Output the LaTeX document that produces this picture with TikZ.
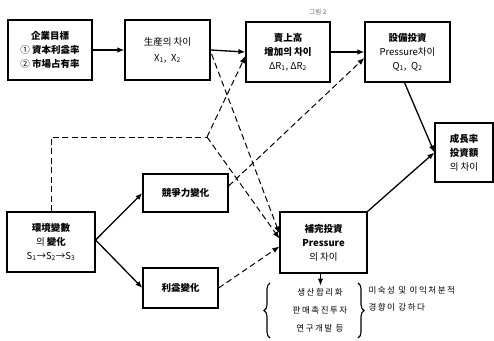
\documentclass[tikz,border=0pt]{standalone}
\usepackage{fontspec}
\setmainfont{Noto Sans CJK KR}
\newfontfamily\krwide[LetterSpace=18]{Noto Sans CJK KR}
\usetikzlibrary{arrows.meta,calc,decorations.pathreplacing}
\begin{document}
\begin{tikzpicture}[x=1pt,y=-1pt,
  box/.style={draw,line width=1.2pt,align=center,inner sep=1pt,font=\fontsize{9.5}{14}\selectfont},
  arr/.style={line width=1.3pt,-{Latex[length=7pt,width=5.5pt]}},
  darr/.style={line width=1pt,dash pattern=on 6pt off 3.5pt,-{Latex[length=7pt,width=5.5pt]}},
  dline/.style={line width=1pt,dash pattern=on 6pt off 3.5pt},
  brc/.style={decorate,decoration={brace,amplitude=6pt},line width=1.1pt},
  lbl/.style={align=center,font=\krwide\fontsize{8.5}{18}\selectfont}]
\useasboundingbox (0,0) rectangle (494,340);
\node[font=\fontsize{6.5}{7}\selectfont,text=black!60] (fig) at (318,12) {그림 2};
\node[box,minimum width=84pt,minimum height=60pt] (A) at (50,50)
  {\bfseries 企業目標\\ ① \bfseries 資本利益率\\ ② \bfseries 市場占有率};
\node[box,minimum width=85pt,minimum height=60pt] (B) at (167.5,50)
  {生産의 차이\\[2pt] X\textsubscript{1},\enspace X\textsubscript{2}};
\node[box,minimum width=84pt,minimum height=60pt] (C) at (288,52)
  {\bfseries 賣上高\\ \bfseries 增加의 차이\\ ΔR\textsubscript{1}, ΔR\textsubscript{2}};
\node[box,minimum width=85pt,minimum height=60pt] (D) at (407.5,52)
  {\bfseries 設備投資\\ Pressure차이\\ Q\textsubscript{1},\enspace Q\textsubscript{2}};
\node[box,minimum width=58pt,minimum height=59pt] (E) at (464,152.5)
  {\bfseries 成長率\\ \bfseries 投資額\\ 의 차이};
\node[box,minimum width=88pt,minimum height=60pt] (F) at (51,242)
  {\bfseries 環境變數\\ 의 \bfseries 變化\\ S\textsubscript{1}→S\textsubscript{2}→S\textsubscript{3}};
\node[box,minimum width=85pt,minimum height=38pt] (G) at (185.5,193) {\bfseries 競爭力變化};
\node[box,minimum width=75pt,minimum height=40pt] (H) at (180.5,288) {\bfseries 利益變化};
\node[box,minimum width=87pt,minimum height=61pt] (I) at (323.5,242.5)
  {\bfseries 補完投資\\ \bfseries Pressure\\ 의 차이};
\node[lbl] (L) at (320,310) {생산합리화\\ 판매촉진투자\\ 연구개발 등};
\node[lbl,anchor=north west,font=\krwide\fontsize{8.5}{17}\selectfont,align=left] (R) at (365,283)
  {미숙성 및 이익처분적\\ 경향이 강하다};
\coordinate (bl1) at (270,338);
\coordinate (bl2) at (270,283);
\coordinate (br1) at (358,283);
\coordinate (br2) at (358,338);
\draw[brc] (bl1) -- (bl2);
\draw[brc] (br1) -- (br2);
% solid arrows
\draw[arr] (A.east) -- (B.west);
\draw[arr] (B.east) -- (C.west);
\draw[arr] (C.east) -- (D.west);
\draw[arr] ($(D.south)+(-3,0)$) -- (E.west);
\draw[arr] (I.north east) -- (E.west);
\draw[arr] ($(F.east)+(0,-2)$) -- (G.west);
\draw[arr] ($(F.east)+(0,-2)$) -- (H.west);
\draw[arr] ($(I.south)+(-3,0)$) -- ($(I.south)+(-3,12)$);
% dashed
\coordinate (k) at (207,137);
\draw[dline] (F.north) -- (F.north |- k) -- (k);
\draw[darr] (k) -- ($(C.west)+(0,4)$);
\draw[darr] (k) -- ($(I.west)+(0,-4)$);
\draw[darr] ($(B.east)+(1,4)$) -- ($(I.west)+(0,-9)$);
\draw[darr] ($(G.east)+(0,-7)$) -- ($(D.west)+(0,6)$);
\draw[darr] (H.east) -- ($(I.west)+(0,4)$);
\end{tikzpicture}
\end{document}
